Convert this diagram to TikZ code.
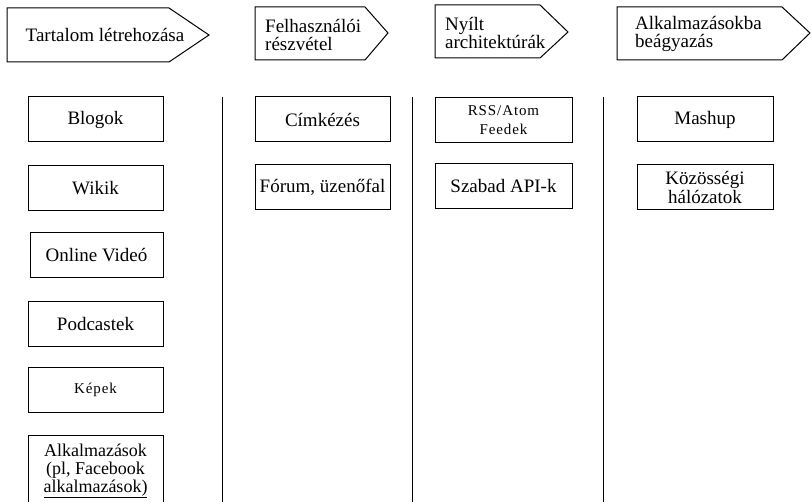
\documentclass[tikz,border=0pt]{standalone}
\usepackage{fontspec}
\setmainfont{Liberation Serif}
\usepackage{tikz}

\newcommand{\widetxt}{\fontsize{15}{16}\selectfont\addfontfeatures{LetterSpace=6}}

\tikzset{
  box/.style={draw, line width=1pt, minimum width=135pt, minimum height=45pt,
    inner sep=0pt, align=center},
  head/.style={draw, line width=1pt},
  headtxt/.style={anchor=west, align=left, inner sep=0pt},
  sep/.style={line width=1pt}
}

\begin{document}
\begin{tikzpicture}[x=1pt, y=-1pt, font=\fontsize{19}{18.5}\selectfont]
  \useasboundingbox (0,0) rectangle (811,502);
  % header arrows
  \draw[head] (7,8) -- (169,8) -- (209,35) -- (169,62) -- (7,62) -- cycle;
  \draw[head] (255,7) -- (365,7) -- (388,33) -- (365,60) -- (255,60) -- cycle;
  \draw[head] (435,5) -- (540,5) -- (568,32) -- (540,58) -- (435,58) -- cycle;
  \draw[head] (617,7) -- (782,7) -- (810,33) -- (782,60) -- (617,60) -- cycle;
  \node[inner sep=0pt] (tartalom) at (105,35) {Tartalom létrehozása};
  \node[headtxt] (felhasznaloi) at (265,35) {Felhasználói\\részvétel};
  \node[headtxt] (nyilt) at (445,33) {Nyílt\\architektúrák};
  \node[headtxt] (beagyazas) at (635,34) {Alkalmazásokba\\beágyazás};
  % column separators
  \coordinate (s1top) at (222,97);  \coordinate (s1bot) at (222,502);
  \coordinate (s2top) at (412,97);  \coordinate (s2bot) at (412,502);
  \coordinate (s3top) at (603,97);  \coordinate (s3bot) at (603,502);
  \draw[sep] (s1top) -- (s1bot);
  \draw[sep] (s2top) -- (s2bot);
  \draw[sep] (s3top) -- (s3bot);
  % content
  \node[box] (blogok) at (95.5,119.5) {Blogok};
  \node[box] (wikik) at (95.5,188) {Wikik};
  \node[box, minimum width=133pt] (video) at (96.5,255.5) {Online Videó};
  \node[box] (podcast) at (95.5,324.5) {Podcastek};
  \node[box] (kepek) at (95.5,390) {\widetxt Képek};
  \node[box, minimum height=72pt, font=\fontsize{18}{18}\selectfont] (alkalm) at (95.5,471)
    {Alkalmazások\\(pl, Facebook\\\underline{alkalmazások)}};
  \node[box] (cimkezes) at (322.5,119.5) {Címkézés};
  \node[box] (forum) at (322.5,187.5) {Fórum, üzenőfal};
  \node[box, minimum width=137pt] (rss) at (503.5,120) {\widetxt RSS/Atom\\\widetxt Feedek};
  \node[box, minimum width=137pt] (api) at (503.5,186.5) {Szabad API-k};
  \node[box, minimum width=136pt] (mashup) at (705,119.5) {Mashup};
  \node[box, minimum width=136pt] (kozossegi) at (705,187.5) {Közösségi\\hálózatok};
\end{tikzpicture}
\end{document}
